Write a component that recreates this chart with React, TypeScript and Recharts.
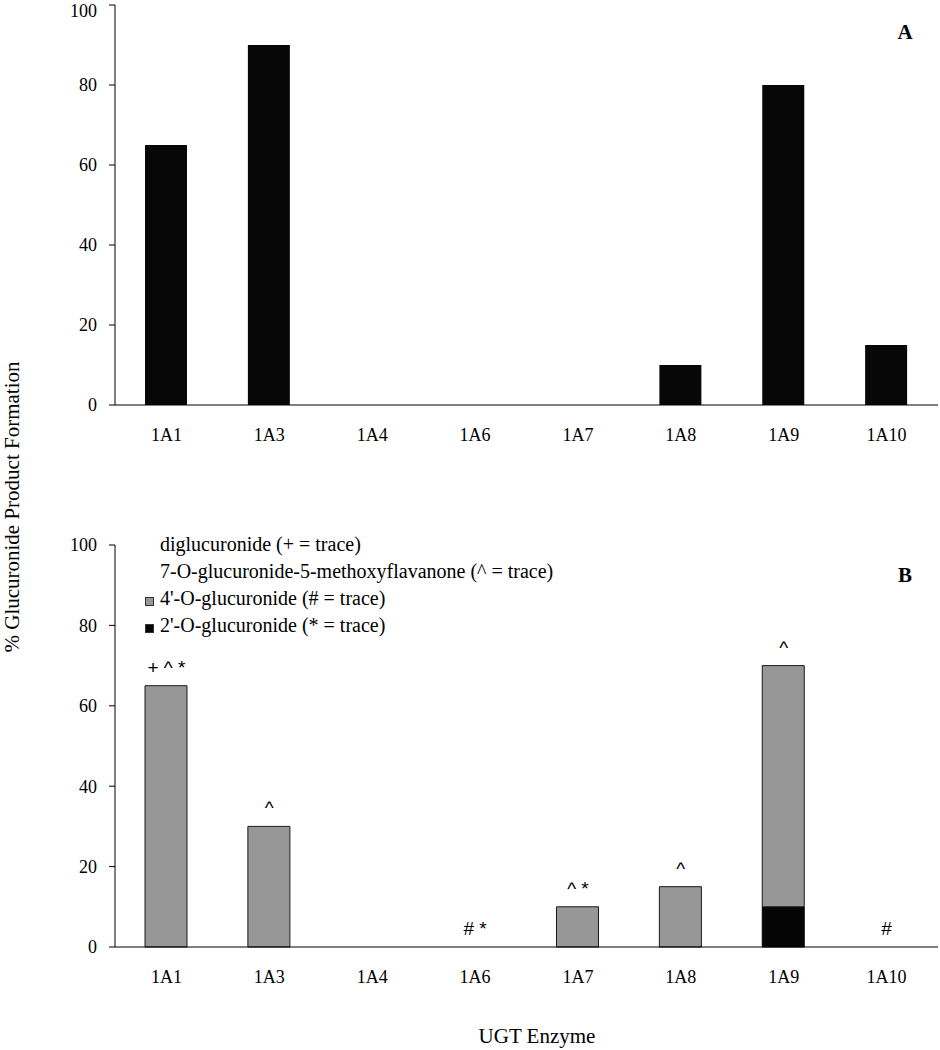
import React from "react";
import {
  BarChart,
  ComposedChart,
  Bar,
  Scatter,
  XAxis,
  YAxis,
} from "recharts";

const ENZYMES = ["1A1", "1A3", "1A4", "1A6", "1A7", "1A8", "1A9", "1A10"];
const Y_TICKS = [0, 20, 40, 60, 80, 100];

// panel A: total glucuronide formation
const TOTAL = [65, 90, 0, 0, 0, 10, 80, 15];

// panel B: stacked products (bottom to top)
const GLUC_2 = [0, 0, 0, 0, 0, 0, 10, 0];
const GLUC_4 = [65, 30, 0, 0, 10, 15, 60, 0];
const GLUC_7 = [0, 0, 0, 0, 0, 0, 0, 0];
const DIGLUC = [0, 0, 0, 0, 0, 0, 0, 0];
const TRACES = ["+ ^ *", "^", "", "# *", "^ *", "^", "^", "#"];

const SERIF = "'Liberation Serif', 'Times New Roman', serif";
const SANS = "'Liberation Sans', Arial, sans-serif";

const SERIES = [
  { key: "g2", name: "2'-O-glucuronide (* = trace)", fill: "#050505", stroke: "#050505" },
  { key: "g4", name: "4'-O-glucuronide (# = trace)", fill: "#979797", stroke: "#1a1a1a" },
  { key: "g7", name: "7-O-glucuronide-5-methoxyflavanone (^ = trace)", fill: "#ffffff", stroke: "none" },
  { key: "dg", name: "diglucuronide (+ = trace)", fill: "#ffffff", stroke: "none" },
];

const dataA = ENZYMES.map((e, i) => ({ enzyme: e, total: TOTAL[i] }));
const dataB = ENZYMES.map((e, i) => ({
  enzyme: e,
  g2: GLUC_2[i],
  g4: GLUC_4[i],
  g7: GLUC_7[i],
  dg: DIGLUC[i],
  top: GLUC_2[i] + GLUC_4[i] + GLUC_7[i] + DIGLUC[i],
  trace: TRACES[i],
}));

const tickStyle = { fontFamily: SERIF, fontSize: 18, fill: "#000" };

// trace markers drawn at the top of each stack
function TraceMark(props: any) {
  const { cx, cy, payload } = props;
  if (!payload || !payload.trace) return null;
  return (
    <text
      x={cx}
      y={cy - 12}
      textAnchor="middle"
      fontFamily={SANS}
      fontSize={19}
      fill="#000"
      style={{ whiteSpace: "pre" }}
    >
      {payload.trace}
    </text>
  );
}

function ProductLegend() {
  return (
    <div
      style={{
        position: "absolute",
        left: 143,
        top: 531,
        fontFamily: SERIF,
        fontSize: 20,
        color: "#000",
      }}
    >
      {[...SERIES].reverse().map((s) => (
        <div
          key={s.key}
          style={{ height: 27, lineHeight: "27px", position: "relative", paddingLeft: 17, whiteSpace: "nowrap" }}
        >
          {s.fill !== "#ffffff" && (
            <span
              style={{
                position: "absolute",
                left: 2,
                top: 12,
                width: 7,
                height: 7,
                background: s.fill,
                border: "1px solid #333",
              }}
            />
          )}
          {s.name}
        </div>
      ))}
    </div>
  );
}

const panelLabel = (text: string, top: number) => (
  <div
    style={{
      position: "absolute",
      left: 905,
      top,
      transform: "translate(-50%, -50%)",
      fontFamily: SERIF,
      fontWeight: "bold",
      fontSize: 21,
      lineHeight: 1,
    }}
  >
    {text}
  </div>
);

export default function App() {
  return (
    <div style={{ position: "absolute", left: 0, top: 0, width: 940, height: 1050, background: "#fff" }}>
      <div style={{ position: "absolute", left: 0, top: 0 }}>
        <BarChart width={940} height={460} data={dataA} margin={{ top: 5, right: 2, left: 0, bottom: 0 }} barSize={42}>
          <XAxis
            dataKey="enzyme"
            tickLine={false}
            tickSize={0}
            tickMargin={23}
            height={55}
            stroke="#000"
            tick={tickStyle}
          />
          <YAxis
            width={115}
            domain={[0, 100]}
            ticks={Y_TICKS}
            tickSize={6}
            tickMargin={12}
            stroke="#000"
            tick={tickStyle}
          />
          <Bar dataKey="total" fill="#070707" isAnimationActive={false} />
        </BarChart>
      </div>

      <div style={{ position: "absolute", left: 0, top: 490 }}>
        <ComposedChart width={940} height={512} data={dataB} margin={{ top: 55, right: 2, left: 0, bottom: 0 }} barSize={42}>
          <XAxis
            dataKey="enzyme"
            tickLine={false}
            tickSize={0}
            tickMargin={23}
            height={55}
            stroke="#000"
            tick={tickStyle}
          />
          <YAxis
            width={115}
            domain={[0, 100]}
            ticks={Y_TICKS}
            tickSize={6}
            tickMargin={12}
            stroke="#000"
            tick={tickStyle}
          />
          {SERIES.map((s) => (
            <Bar
              key={s.key}
              dataKey={s.key}
              name={s.name}
              stackId="b"
              fill={s.fill}
              stroke={s.stroke}
              strokeWidth={1}
              isAnimationActive={false}
            />
          ))}
          <Scatter dataKey="top" shape={<TraceMark />} isAnimationActive={false} />
        </ComposedChart>
      </div>

      <ProductLegend />
      {panelLabel("A", 32)}
      {panelLabel("B", 575)}
      <div
        style={{
          position: "absolute",
          left: 13,
          top: 507,
          transform: "translate(-50%, -50%) rotate(-90deg)",
          fontFamily: SERIF,
          fontSize: 21,
          lineHeight: 1.2,
          whiteSpace: "nowrap",
        }}
      >
        % Glucuronide Product Formation
      </div>
      <div
        style={{
          position: "absolute",
          left: 537,
          top: 1036,
          transform: "translate(-50%, -50%)",
          fontFamily: SERIF,
          fontSize: 21,
          lineHeight: 1,
          whiteSpace: "nowrap",
        }}
      >
        UGT Enzyme
      </div>
    </div>
  );
}
